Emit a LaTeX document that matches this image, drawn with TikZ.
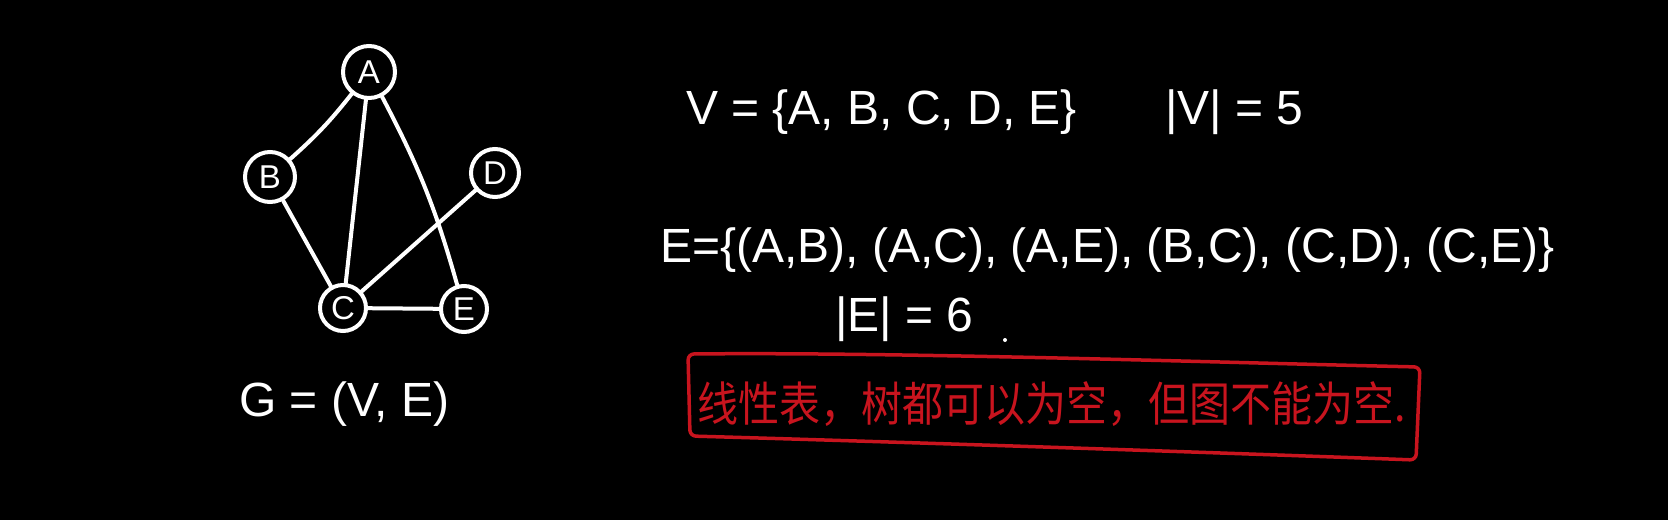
\documentclass[tikz,border=0pt]{standalone}
\usepackage{fontspec}
\setmainfont{Liberation Sans}
\newfontfamily\cjk{Noto Sans CJK SC}
\definecolor{inkred}{HTML}{C8141E}
\begin{document}
\begin{tikzpicture}[x=1pt,y=-1pt,
  vtx/.style={circle,draw=white,line width=4pt,minimum size=48pt,inner sep=0pt,text=white,font=\fontsize{33}{35}\selectfont},
  edge/.style={draw=white,line width=4pt,line cap=round},
  txt/.style={text=white,font=\fontsize{48}{52}\selectfont,inner sep=0pt,anchor=west},
  redtxt/.style={text=inkred,font=\cjk\fontsize{41}{46}\selectfont,inner sep=0pt},
  redbox/.style={draw=inkred,line width=3.5pt,line cap=round,line join=round,rounded corners=6pt}]
\fill[black] (0,0) rectangle (1668,520);
\useasboundingbox (0,0) rectangle (1668,520);
% graph
\node[vtx,minimum size=52pt] (A) at (369,72) {A};
\node[vtx,minimum size=50pt] (B) at (270,177) {B};
\node[vtx,minimum size=48pt] (D) at (495,173) {D};
\node[vtx,minimum size=46pt] (C) at (343,308) {C};
\node[vtx,minimum size=46pt] (E) at (464,309) {E};
\draw[edge] (A) to[bend left=5] (B);
\draw[edge] (A) -- (C);
\draw[edge] (A) to[bend left=6] (E);
\draw[edge] (B) -- (C);
\draw[edge] (C) -- (D);
\draw[edge] (C) -- (E);
% texts
\node[txt] (v) at (686,112) {V = \{A, B, C, D, E\}};
\node[txt] (nv) at (1165,112) {|V| = 5};
\node[txt] (e) at (660,250) {E=\{(A,B), (A,C), (A,E), (B,C), (C,D), (C,E)\}};
\node[txt] (ne) at (835,319) {|E| = 6};
\fill[white] (1005,340) circle (2pt);
\node[txt] (g) at (239,404) {G = (V, E)};
% red box
\draw[redbox] (688,354) .. controls (900,352) and (1200,362) .. (1420,367) -- (1416,460) .. controls (1200,452) and (900,442) .. (690,436) -- cycle;
\node[redtxt,yscale=1.15] (note) at (1052,404) {线性表，树都可以为空，但图不能为空.};
\end{tikzpicture}
\end{document}
